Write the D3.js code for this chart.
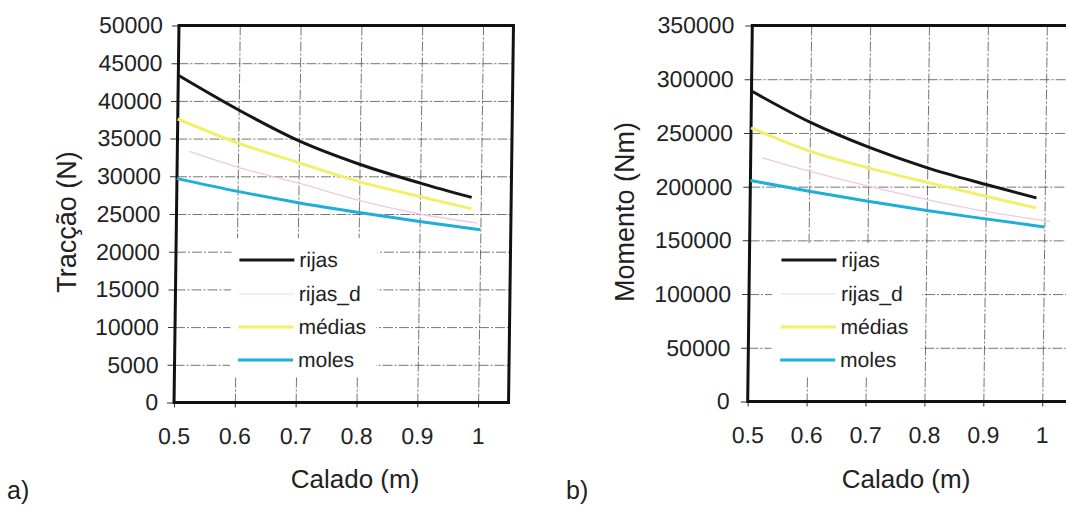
<!DOCTYPE html>
<html>
<head>
<meta charset="utf-8">
<script src="https://cdn.jsdelivr.net/npm/d3@7"></script>
<style>
  html, body { margin: 0; padding: 0; background: #fff; }
  svg { display: block; }
  text { font-family: "Liberation Sans", Arial, Helvetica, sans-serif; fill: #222; }
</style>
</head>
<body>
<svg id="fig" width="1066" height="507"></svg>
<script>
// Series names and styles shared by both panels
const seriesNames = ["rijas", "rijas_d", "médias", "moles"];
const seriesColors = ["#161616", "#f0c8de", "#f4ee6a", "#1eafd7"];
const seriesWidths = [3, 1.3, 3, 3];
const legendLineColors = ["#161616", "#f0e6f0", "#f4ee6a", "#1eafd7"];

// Calado (m) axis
const xTicks = [0.5, 0.6, 0.7, 0.8, 0.9, 1];

// Panel a) — Tracção (N)
const tracTicks = [0, 5000, 10000, 15000, 20000, 25000, 30000, 35000, 40000, 45000, 50000];
const tracRijasX   = [0.5, 0.6, 0.7, 0.8, 0.9, 0.985];
const tracRijas    = [43400, 38800, 34700, 31600, 29100, 27200];
const tracRijasDX  = [0.52, 0.6, 0.7, 0.8, 0.9, 0.995];
const tracRijasD   = [33300, 31200, 29100, 26800, 25000, 23800];
const tracMediasX  = [0.5, 0.6, 0.7, 0.8, 0.9, 0.985];
const tracMedias   = [37600, 34400, 31800, 29300, 27300, 25700];
const tracMolesX   = [0.5, 0.6, 0.7, 0.8, 0.9, 1.0];
const tracMoles    = [29700, 28000, 26500, 25200, 24000, 22900];

// Panel b) — Momento (Nm)
const momTicks = [0, 50000, 100000, 150000, 200000, 250000, 300000, 350000];
const momRijasX   = [0.5, 0.6, 0.7, 0.8, 0.9, 0.986];
const momRijas    = [289000, 260000, 236700, 217500, 202000, 189500];
const momRijasDX  = [0.52, 0.6, 0.7, 0.8, 0.9, 1.01];
const momRijasD   = [226900, 214400, 200400, 188000, 177000, 167700];
const momMediasX  = [0.5, 0.6, 0.7, 0.8, 0.9, 0.986];
const momMedias   = [254800, 233000, 217500, 204000, 191000, 180200];
const momMolesX   = [0.5, 0.6, 0.7, 0.8, 0.9, 1.0];
const momMoles    = [205700, 195700, 186400, 177700, 170000, 162500];

const svg = d3.select("#fig");

function zip(xs, ys) { return xs.map((x, i) => ({ x: x, y: ys[i] })); }

function drawPanel(cfg) {
  const { left, right, top, bottom } = cfg.box;
  const w = right - left, h = bottom - top;
  const cx = (left + right) / 2, cy = (top + bottom) / 2;
  // slight lean of the whole panel: upper edge sits further right than the lower edge
  const g = svg.append("g")
    .attr("transform",
      `translate(${cx},${cy}) skewX(${-cfg.lean}) translate(${-cx},${-cy}) translate(${left},${top})`);

  const x = d3.scaleLinear().domain([0.5, 1.05]).range([0, w]);
  const y = d3.scaleLinear().domain([0, cfg.yMax]).range([h, 0]);

  // dash-dot grid
  const gridStyle = sel => {
    sel.select(".domain").remove();
    sel.selectAll("line")
      .attr("stroke", "#4a4a4a")
      .attr("stroke-width", 0.9)
      .attr("stroke-dasharray", "10,2,2,2")
      .attr("opacity", 0.85);
  };
  g.append("g")
    .call(d3.axisLeft(y).tickValues(cfg.yTicks.filter(v => v > 0 && v < cfg.yMax)).tickSize(-w).tickFormat(""))
    .call(gridStyle);
  g.append("g")
    .call(d3.axisBottom(x).tickValues(xTicks.filter(v => v > 0.5)).tickSize(h).tickFormat(""))
    .call(sel => sel.selectAll(".tick line").attr("y1", 0).attr("y2", h))
    .call(gridStyle);

  // legend backdrop (hides grid behind entries)
  g.append("rect")
    .attr("x", cfg.legendBox[0] - left).attr("y", cfg.legendBox[1] - top)
    .attr("width", cfg.legendBox[2] - cfg.legendBox[0])
    .attr("height", cfg.legendBox[3] - cfg.legendBox[1])
    .attr("fill", "#fff");

  // y axis: ticks + labels
  const yAxis = g.append("g")
    .call(d3.axisLeft(y).tickValues(cfg.yTicks).tickSize(7).tickPadding(cfg.yPad).tickFormat(d3.format("d")));
  yAxis.select(".domain").remove();
  yAxis.selectAll("line").attr("stroke", "#333").attr("stroke-width", 1);
  yAxis.selectAll("text")
    .style("font-size", "23px").attr("fill", "#222");

  // x axis: ticks + labels
  const xAxis = g.append("g")
    .attr("transform", `translate(0,${h})`)
    .call(d3.axisBottom(x).tickValues(xTicks).tickSize(5).tickFormat(d3.format("")));
  xAxis.select(".domain").remove();
  xAxis.selectAll("line").attr("stroke", "#333").attr("stroke-width", 1);
  xAxis.selectAll("text")
    .attr("y", 42).attr("dy", null)
    .style("font-size", "23px").attr("fill", "#222");

  // frame
  g.append("rect")
    .attr("x", 0).attr("y", 0).attr("width", w).attr("height", h)
    .attr("fill", "none").attr("stroke", "#111").attr("stroke-width", 3);

  // curves
  const line = d3.line()
    .x(d => x(d.x)).y(d => y(d.y))
    .curve(d3.curveMonotoneX);
  cfg.series.forEach((s, i) => {
    g.append("path")
      .datum(s)
      .attr("d", line)
      .attr("fill", "none")
      .attr("stroke", seriesColors[i])
      .attr("stroke-width", seriesWidths[i])
      .attr("stroke-linecap", "butt");
  });

  // legend entries
  const rowY = [260, 294, 327, 360];
  seriesNames.forEach((name, i) => {
    const ly = rowY[i] - top;
    g.append("line")
      .attr("x1", cfg.legendX - left).attr("x2", cfg.legendX + 55 - left)
      .attr("y1", ly).attr("y2", ly)
      .attr("stroke", legendLineColors[i])
      .attr("stroke-width", i === 1 ? 1.5 : 3);
    g.append("text")
      .attr("x", cfg.legendX + 60 - left).attr("y", ly + 7)
      .style("font-size", "21px")
      .text(name);
  });

  // axis titles
  svg.append("text")
    .attr("transform", `translate(${cfg.yTitle[0]},${cfg.yTitle[1]}) rotate(-90)`)
    .attr("text-anchor", "middle")
    .style("font-size", "27px")
    .text(cfg.yLabel);
  svg.append("text")
    .attr("x", cfg.xTitle[0]).attr("y", cfg.xTitle[1])
    .attr("text-anchor", "middle")
    .style("font-size", "26px")
    .text("Calado (m)");
  svg.append("text")
    .attr("x", cfg.tag[0]).attr("y", cfg.tag[1])
    .style("font-size", "25px")
    .text(cfg.tagText);
}

drawPanel({
  box: { left: 176.5, right: 511, top: 25.5, bottom: 402.5 },
  lean: 0.75,
  yMax: 50000,
  yTicks: tracTicks,
  yPad: 9,
  series: [
    zip(tracRijasX, tracRijas),
    zip(tracRijasDX, tracRijasD),
    zip(tracMediasX, tracMedias),
    zip(tracMolesX, tracMoles)
  ],
  legendBox: [232, 238, 378, 377],
  legendX: 240,
  yLabel: "Tracção (N)",
  yTitle: [76, 222],
  xTitle: [355, 488],
  tag: [7, 499],
  tagText: "a)"
});

drawPanel({
  box: { left: 750, right: 1074, top: 25.5, bottom: 401.5 },
  lean: 0.7,
  yMax: 350000,
  yTicks: momTicks,
  yPad: 11,
  series: [
    zip(momRijasX, momRijas),
    zip(momRijasDX, momRijasD),
    zip(momMediasX, momMedias),
    zip(momMolesX, momMoles)
  ],
  legendBox: [773, 243, 923, 377],
  legendX: 782,
  yLabel: "Momento (Nm)",
  yTitle: [634, 212],
  xTitle: [906, 488],
  tag: [566, 499],
  tagText: "b)"
});
</script>
</body>
</html>
